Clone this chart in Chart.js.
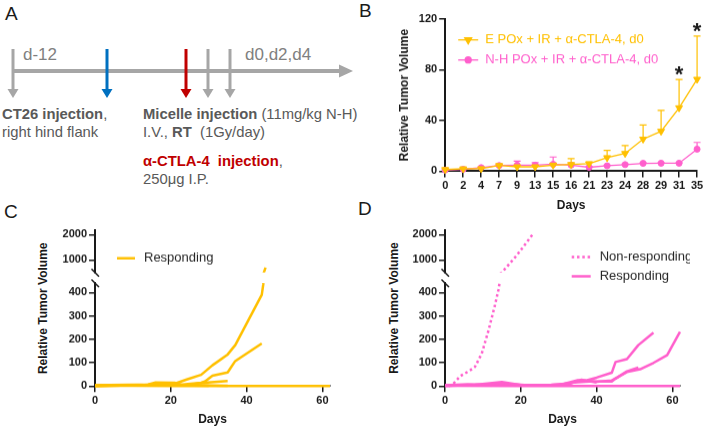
<!DOCTYPE html>
<html>
<head>
<meta charset="utf-8">
<script src="https://cdn.jsdelivr.net/npm/chart.js@4.4.1/dist/chart.umd.min.js"></script>
<style>
  html, body { margin: 0; padding: 0; background: #fff; }
  body { width: 705px; height: 429px; position: relative; overflow: hidden; }
  .box { position: absolute; }
  .box canvas { display: block; }
</style>
</head>
<body>
<!-- Panel A diagram, panel letters and the shared y titles of C and D -->
<svg class="box" style="left:0;top:0" width="705" height="429" font-family="Liberation Sans, Arial, sans-serif">
  <g fill="#1a1a1a" font-size="19">
    <text x="5" y="20">A</text>
    <text x="359" y="17">B</text>
    <text x="4" y="218">C</text>
    <text x="358" y="215">D</text>
  </g>
  <line x1="13" y1="71" x2="341" y2="71" stroke="#a6a6a6" stroke-width="4"/>
  <polygon points="339,64.5 353,71 339,77.5" fill="#a6a6a6"/>
  <g stroke-width="3">
    <line x1="13" y1="49" x2="13" y2="90" stroke="#a6a6a6"/>
    <line x1="107" y1="49" x2="107" y2="90" stroke="#0070c0"/>
    <line x1="186" y1="49" x2="186" y2="90" stroke="#c00000"/>
    <line x1="208" y1="49" x2="208" y2="90" stroke="#a6a6a6"/>
    <line x1="230" y1="49" x2="230" y2="90" stroke="#a6a6a6"/>
  </g>
  <polygon points="7.5,89 18.5,89 13,98" fill="#a6a6a6"/>
  <polygon points="101.5,89 112.5,89 107,98" fill="#0070c0"/>
  <polygon points="180.5,89 191.5,89 186,98" fill="#c00000"/>
  <polygon points="202.5,89 213.5,89 208,98" fill="#a6a6a6"/>
  <polygon points="224.5,89 235.5,89 230,98" fill="#a6a6a6"/>
  <g fill="#808080" font-size="17">
    <text x="23" y="60">d-12</text>
    <text x="245" y="60">d0,d2,d4</text>
  </g>
  <g fill="#595959" font-size="14.8">
    <text x="2" y="119" xml:space="preserve"><tspan font-weight="bold">CT26 injection</tspan>,</text>
    <text x="2" y="137">right hind flank</text>
    <text x="143" y="119" xml:space="preserve"><tspan font-weight="bold">Micelle injection</tspan> (11mg/kg N-H)</text>
    <text x="143" y="137" xml:space="preserve">I.V., <tspan font-weight="bold">RT</tspan>  (1Gy/day)</text>
    <text x="143" y="166" xml:space="preserve"><tspan font-weight="bold" fill="#c00000">α-CTLA-4  injection</tspan>,</text>
    <text x="143" y="184">250μg I.P.</text>
  </g>
  <g fill="#1a1a1a" font-size="12" font-weight="bold" text-anchor="middle" dominant-baseline="central">
    <text transform="translate(42.7,308.3) rotate(-90)">Relative Tumor Volume</text>
    <text transform="translate(394.3,308) rotate(-90)">Relative Tumor Volume</text>
  </g>
</svg>

<div class="box" id="boxB"><canvas id="chartB"></canvas></div>
<div class="box" id="boxCtop"><canvas id="chartCtop"></canvas></div>
<div class="box" id="boxCbot"><canvas id="chartCbot"></canvas></div>
<div class="box" id="boxDtop"><canvas id="chartDtop"></canvas></div>
<div class="box" id="boxDbot"><canvas id="chartDbot"></canvas></div>

<script>
// ---- Panel B: mean relative tumor volume (+SEM) ----
const DAYS_B = ['0', '2', '4', '7', '9', '13', '15', '16', '21', '23', '24', '28', '29', '31', '35'];
const EPOX_MEAN = [1.3, 1.9, 2.0, 4.5, 3.5, 3.5, 4.8, 5.3, 5.9, 10.7, 14, 25.3, 31.5, 50, 72.5];
const EPOX_SEM = [0.7, 0.5, 0.6, 0.6, 1, 1, 1.5, 4.6, 1.3, 5.8, 6.3, 11.2, 16.5, 22.3, 34.2];
const NH_MEAN = [0.9, 1.5, 2.8, 4.5, 4.8, 4.8, 5.5, 4.8, 3.1, 4.3, 5.2, 6.2, 6.3, 6.3, 17.4];
const NH_SEM = [0.5, 0.5, 0.5, 0.6, 3.2, 1.9, 5.7, 1.0, 0.8, 0.5, 0.5, 0.5, 0.5, 0.5, 5.3];
const SIG_B = ['', '', '', '', '', '', '', '', '', '', '', '', '', '*', '*'];
const Y_TICKS_B = [0, 40, 80, 120];

// ---- Panel C: individual mice, E POx group ----
const C1_DAY = [0, 3, 7, 10, 14, 16, 21, 24, 28, 31, 35, 37, 44, 44.4, 45];
const C1_VOL = [0, 1, 2, 3, 5, 9, 10, 27, 48, 89, 135, 175, 390, 435, 700];
const C2_DAY = [0, 7, 14, 21, 28, 29, 31, 35, 37, 44];
const C2_VOL = [1, 3, 4, 3, 14, 20, 44, 58, 107, 182];
const C3_DAY = [0, 7, 14, 21, 25, 28, 35];
const C3_VOL = [0, 2, 3, 2, 6, 13, 22];
const C4_DAY = [0, 10, 21, 30, 40, 50, 62];
const C4_VOL = [1, 1, 0, 0, 0, 0, 0];
const C5_DAY = [0, 5, 9, 14, 16, 21, 23, 28, 35];
const C5_VOL = [2, 3, 5, 7, 15, 14, 5, 3, 1];
const C6_DAY = [0, 4, 9, 13, 17, 21, 26, 30];
const C6_VOL = [3, 4, 6, 5, 8, 4, 2, 1];

// ---- Panel D: individual mice, N-H POx group ----
const D_NR_DAY = [1, 2.2, 4, 6.6, 7.9, 9.7, 11.5, 13.2, 14.1, 15, 19, 23];
const D_NR_VOL = [0, 10, 42, 67, 82, 139, 239, 347, 411, 500, 1190, 1980];
const D1_DAY = [0, 5, 10, 15, 20, 25, 30, 32, 35, 37.5, 40, 44, 45, 48, 51, 55];
const D1_VOL = [0, 3, 6, 8, 4, 3, 5, 7, 20, 25, 36, 57, 103, 115, 175, 228];
const D2_DAY = [0, 8, 15, 20, 28, 31, 35, 40, 44, 45.4, 48, 51.5, 55, 58.6, 62];
const D2_VOL = [1, 6, 17, 5, 6, 8, 25, 18, 24, 36, 60, 72, 99, 132, 232];
const D3_DAY = [0, 10, 20, 30, 34, 38, 44, 45, 48, 51];
const D3_VOL = [2, 5, 3, 6, 15, 20, 20, 32, 63, 79];
const D4_DAY = [0, 20, 40, 62];
const D4_VOL = [1, 0, 0, 0];
const D5_DAY = [0, 6, 12, 16, 22, 28, 33, 36, 40];
const D5_VOL = [3, 8, 6, 10, 3, 5, 12, 27, 15];

const X_TICKS_CD = [0, 20, 40, 60];
const Y_TICKS_LOW = [0, 100, 200, 300, 400];
const Y_TICKS_HIGH = [1000, 2000];

const FONT = '"Liberation Sans", Arial, sans-serif';
const INK = '#1a1a1a';
const ORANGE = '#ffc000';
const PINK = '#ff5fcc';

Chart.defaults.font.family = FONT;
Chart.defaults.color = INK;
Chart.defaults.animation = false;
Chart.defaults.events = [];
Chart.defaults.plugins.legend.display = false;
Chart.defaults.plugins.tooltip.enabled = false;

// box: chart area edges in page pixels, y axis width, x axis height, paddings
function mount(id, b) {
	const el = document.getElementById(id);
	el.style.left = (b.L - b.w) + 'px';
	el.style.top = (b.T - b.pt) + 'px';
	el.style.width = (b.R - b.L + b.w + b.pr) + 'px';
	el.style.height = (b.B - b.T + b.pt + b.h + b.pb) + 'px';
	return el.querySelector('canvas');
}

function fixedTicks(values) {
	return (s) => { s.ticks = values.map(v => ({ value: v })); };
}

function axisStyle(extra) {
	return Object.assign({
		border: { color: INK, width: 2 },
		grid: { drawOnChartArea: false, drawTicks: true, tickLength: 6, color: INK, lineWidth: 1.5 },
	}, extra);
}

function yAxis(b, min, max, values, title) {
	return axisStyle({
		type: 'linear', min, max,
		afterBuildTicks: fixedTicks(values),
		afterFit(s) { s.width = b.w; },
		ticks: { color: INK, padding: 2, font: { size: 11, weight: 'bold' }, callback: v => String(v) },
		title: title ? { display: true, text: title, padding: 0, color: INK, font: { size: 12, weight: 'bold' } } : { display: false },
	});
}

function xAxisDays(b, show) {
	return axisStyle({
		type: 'linear', min: 0, max: 62, display: show,
		afterBuildTicks: fixedTicks(X_TICKS_CD),
		afterFit(s) { s.height = b.h; },
		ticks: { color: INK, padding: 2, font: { size: 11, weight: 'bold' }, callback: v => String(v) },
		title: { display: true, text: 'Days', padding: 0, color: INK, font: { size: 12, weight: 'bold' } },
	});
}

function makeLegend(cfg) {
	return {
		id: 'insideLegend',
		afterDraw(chart) {
			const { ctx, chartArea: a } = chart;
			ctx.save();
			ctx.font = '13px ' + FONT;
			ctx.textBaseline = 'middle';
			cfg.items.forEach((it, i) => {
				const y = a.top + cfg.y + i * cfg.row;
				const x0 = a.left + cfg.x;
				ctx.strokeStyle = it.color;
				ctx.lineWidth = it.lineWidth;
				ctx.setLineDash(it.dash || []);
				ctx.beginPath();
				ctx.moveTo(x0, y);
				ctx.lineTo(x0 + cfg.len, y);
				ctx.stroke();
				ctx.setLineDash([]);
				if (it.marker) {
					ctx.fillStyle = it.color;
					Chart.helpers.drawPoint(ctx, { pointStyle: it.marker, radius: it.radius, rotation: it.rotation || 0, borderWidth: 1 }, x0 + cfg.len / 2, y);
				}
				ctx.fillStyle = it.textColor || it.color;
				ctx.fillText(it.text, x0 + cfg.len + cfg.gap, y);
			});
			ctx.restore();
		},
	};
}

function breakMark(edge) {
	return {
		id: 'breakMark',
		afterDraw(chart) {
			const { ctx, chartArea: a } = chart;
			const y = edge === 'top' ? a.top : a.bottom;
			ctx.save();
			ctx.strokeStyle = INK;
			ctx.lineWidth = 1.5;
			ctx.beginPath();
			ctx.moveTo(a.left - 3.5, y - 3.5);
			ctx.lineTo(a.left + 4, y + 4);
			ctx.stroke();
			ctx.restore();
		},
	};
}

// upward SEM bars + significance marks for panel B
const errorBars = {
	id: 'errorBars',
	beforeDatasetsDraw(chart) {
		const { ctx, scales: { y } } = chart;
		chart.data.datasets.forEach((ds, di) => {
			const meta = chart.getDatasetMeta(di);
			ctx.save();
			ctx.strokeStyle = ds.borderColor;
			ctx.lineWidth = 1.2;
			meta.data.forEach((pt, i) => {
				const top = y.getPixelForValue(ds.data[i] + ds.sem[i]);
				ctx.beginPath();
				ctx.moveTo(pt.x, pt.y);
				ctx.lineTo(pt.x, top);
				ctx.moveTo(pt.x - 3.5, top);
				ctx.lineTo(pt.x + 3.5, top);
				ctx.stroke();
			});
			ctx.restore();
		});
	},
	afterDatasetsDraw(chart) {
		const { ctx, scales: { x, y } } = chart;
		ctx.save();
		ctx.fillStyle = INK;
		ctx.font = 'bold 22px ' + FONT;
		ctx.textAlign = 'center';
		ctx.textBaseline = 'alphabetic';
		SIG_B.forEach((s, i) => {
			if (!s) return;
			const top = y.getPixelForValue(EPOX_MEAN[i] + EPOX_SEM[i]);
			ctx.fillText(s, x.getPixelForValue(i), top + 2);
		});
		ctx.restore();
	},
};

function lineSet(days, vol, color, dash) {
	return {
		data: days.map((d, i) => ({ x: d, y: vol[i] })),
		borderColor: color, borderWidth: 2.5, borderDash: dash || [],
		borderJoinStyle: 'round', pointRadius: 0, tension: 0, fill: false,
	};
}

// ---------- Panel B ----------
const boxB = { L: 445, T: 19.3, R: 697, B: 170.7, w: 48.2, h: 41.5, pt: 10, pr: 8, pb: 0 };
new Chart(mount('boxB', boxB), {
	type: 'line',
	data: {
		labels: DAYS_B,
		datasets: [
			{
				data: EPOX_MEAN, sem: EPOX_SEM, borderColor: ORANGE, backgroundColor: ORANGE,
				borderWidth: 1.3, pointStyle: 'triangle', pointRotation: 180, pointRadius: 4, pointBorderWidth: 1, clip: false,
			},
			{
				data: NH_MEAN, sem: NH_SEM, borderColor: PINK, backgroundColor: PINK,
				borderWidth: 1.3, pointStyle: 'circle', pointRadius: 3, pointBorderWidth: 1, clip: false,
			},
		],
	},
	options: {
		responsive: true, maintainAspectRatio: false,
		layout: { padding: { top: boxB.pt, right: boxB.pr, bottom: boxB.pb, left: 0 } },
		scales: {
			x: axisStyle({
				type: 'category', offset: false,
				afterFit(s) { s.height = boxB.h; },
				ticks: { color: INK, padding: 2, autoSkip: false, maxRotation: 0, font: { size: 11, weight: 'bold' } },
				title: { display: true, text: 'Days', padding: 0, color: INK, font: { size: 12, weight: 'bold' } },
			}),
			y: yAxis(boxB, 0, 120, Y_TICKS_B, 'Relative Tumor Volume'),
		},
	},
	plugins: [errorBars, makeLegend({
		x: 13, y: 20.7, row: 20, len: 20, gap: 7,
		items: [
			{ text: 'E POx + IR + α-CTLA-4, d0', color: ORANGE, lineWidth: 1.3, marker: 'triangle', rotation: 180, radius: 4 },
			{ text: 'N-H POx + IR + α-CTLA-4, d0', color: PINK, lineWidth: 1.3, marker: 'circle', radius: 3 },
		],
	})],
});

// ---------- Panels C and D (broken y axis: two stacked charts each) ----------
function brokenPanel(prefix, L, R, sets, legendCfg) {
	const top = { L, T: 230, R, B: 271.8, w: 45, h: 0, pt: 10, pr: 10, pb: 20 };
	const bot = { L, T: 283.4, R, B: 385.7, w: 45, h: 40.5, pt: 10, pr: 10, pb: 0 };

	new Chart(mount('box' + prefix + 'top', top), {
		type: 'line',
		data: { datasets: sets().map(d => Object.assign(d, { clip: { left: 0, top: 2, right: 2, bottom: 0 } })) },
		options: {
			responsive: true, maintainAspectRatio: false,
			layout: { padding: { top: top.pt, right: top.pr, bottom: top.pb, left: 0 } },
			scales: { x: xAxisDays(top, false), y: yAxis(top, 500, 2172, Y_TICKS_HIGH) },
		},
		plugins: [breakMark('bottom'), makeLegend(legendCfg)],
	});

	new Chart(mount('box' + prefix + 'bot', bot), {
		type: 'line',
		data: { datasets: sets().map(d => Object.assign(d, { clip: { left: 0, top: 0, right: 2, bottom: 3 } })) },
		options: {
			responsive: true, maintainAspectRatio: false,
			layout: { padding: { top: bot.pt, right: bot.pr, bottom: bot.pb, left: 0 } },
			scales: { x: xAxisDays(bot, true), y: yAxis(bot, 0, 440, Y_TICKS_LOW) },
		},
		plugins: [breakMark('top')],
	});
}

brokenPanel('C', 95, 330, () => [
	lineSet(C4_DAY, C4_VOL, ORANGE),
	lineSet(C6_DAY, C6_VOL, ORANGE),
	lineSet(C5_DAY, C5_VOL, ORANGE),
	lineSet(C3_DAY, C3_VOL, ORANGE),
	lineSet(C2_DAY, C2_VOL, ORANGE),
	lineSet(C1_DAY, C1_VOL, ORANGE),
], {
	x: 22, y: 27.7, row: 19, len: 18, gap: 9,
	items: [{ text: 'Responding', color: ORANGE, textColor: '#262626', lineWidth: 2.5 }],
});

brokenPanel('D', 445, 680, () => [
	lineSet(D_NR_DAY, D_NR_VOL, PINK, [2.5, 2.8]),
	lineSet(D4_DAY, D4_VOL, PINK),
	lineSet(D5_DAY, D5_VOL, PINK),
	lineSet(D3_DAY, D3_VOL, PINK),
	lineSet(D2_DAY, D2_VOL, PINK),
	lineSet(D1_DAY, D1_VOL, PINK),
], {
	x: 126.7, y: 26.5, row: 19, len: 19, gap: 9,
	items: [
		{ text: 'Non-responding', color: PINK, textColor: '#262626', lineWidth: 2.5, dash: [2.5, 2.8] },
		{ text: 'Responding', color: PINK, textColor: '#262626', lineWidth: 2.5 },
	],
});
</script>
</body>
</html>
